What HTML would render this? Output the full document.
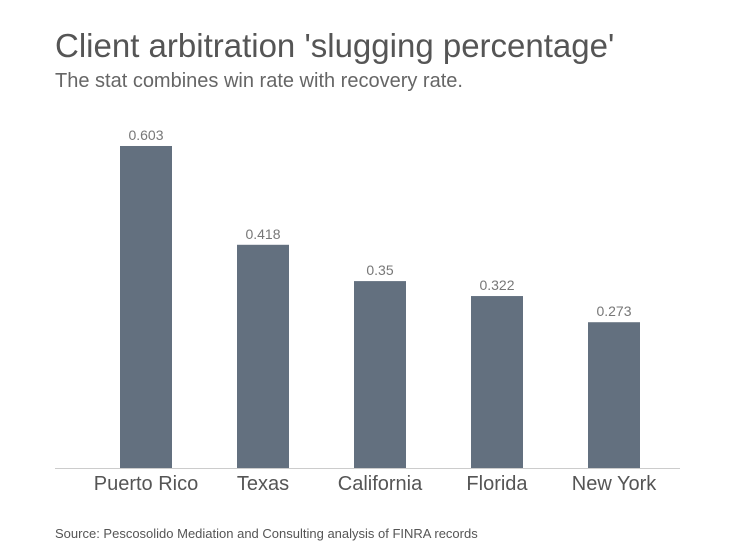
<!DOCTYPE html>
<html><head><meta charset="utf-8"><style>
body{margin:0;width:748px;height:550px;background:#fff;font-family:"Liberation Sans",sans-serif;overflow:hidden}
</style></head><body>
<svg width="748" height="550">
<text x="55" y="57" font-size="33" fill="#555">Client arbitration 'slugging percentage'</text>
<text x="55" y="87" font-size="20" fill="#666">The stat combines win rate with recovery rate.</text>
<g id="bars"></g>
<line x1="55" y1="468.5" x2="680" y2="468.5" stroke="#ccc" stroke-width="1"/>
<text x="55" y="538" font-size="13" fill="#555">Source: Pescosolido Mediation and Consulting analysis of FINRA records</text>
</svg>
<script>
const categories=["Puerto Rico","Texas","California","Florida","New York"];
const values=[0.603,0.418,0.35,0.322,0.273];
const valueLabels=["0.603","0.418","0.35","0.322","0.273"];
const ns="http://www.w3.org/2000/svg";
const g=document.getElementById("bars");
const base=468, k=534;
const y=v=>base-v*k;
const xc=i=>146+i*117;
categories.forEach((c,i)=>{
 const r=document.createElementNS(ns,"rect");
 r.setAttribute("x",xc(i)-26);r.setAttribute("width",52);
 r.setAttribute("y",y(values[i]));r.setAttribute("height",base-y(values[i]));
 r.setAttribute("fill","#63707f");
 
 
 g.appendChild(r);
 const t=document.createElementNS(ns,"text");
 t.setAttribute("x",xc(i));t.setAttribute("y",y(values[i])-6);
 t.setAttribute("text-anchor","middle");t.setAttribute("font-size","14");t.setAttribute("fill","#777");
 t.textContent=valueLabels[i];
 
 
 g.appendChild(t);
 const l=document.createElementNS(ns,"text");
 l.setAttribute("x",xc(i));l.setAttribute("y",490);
 l.setAttribute("text-anchor","middle");l.setAttribute("font-size","20");l.setAttribute("fill","#555");
 l.textContent=c;
 
 
 g.appendChild(l);
});
</script>
</body></html>
